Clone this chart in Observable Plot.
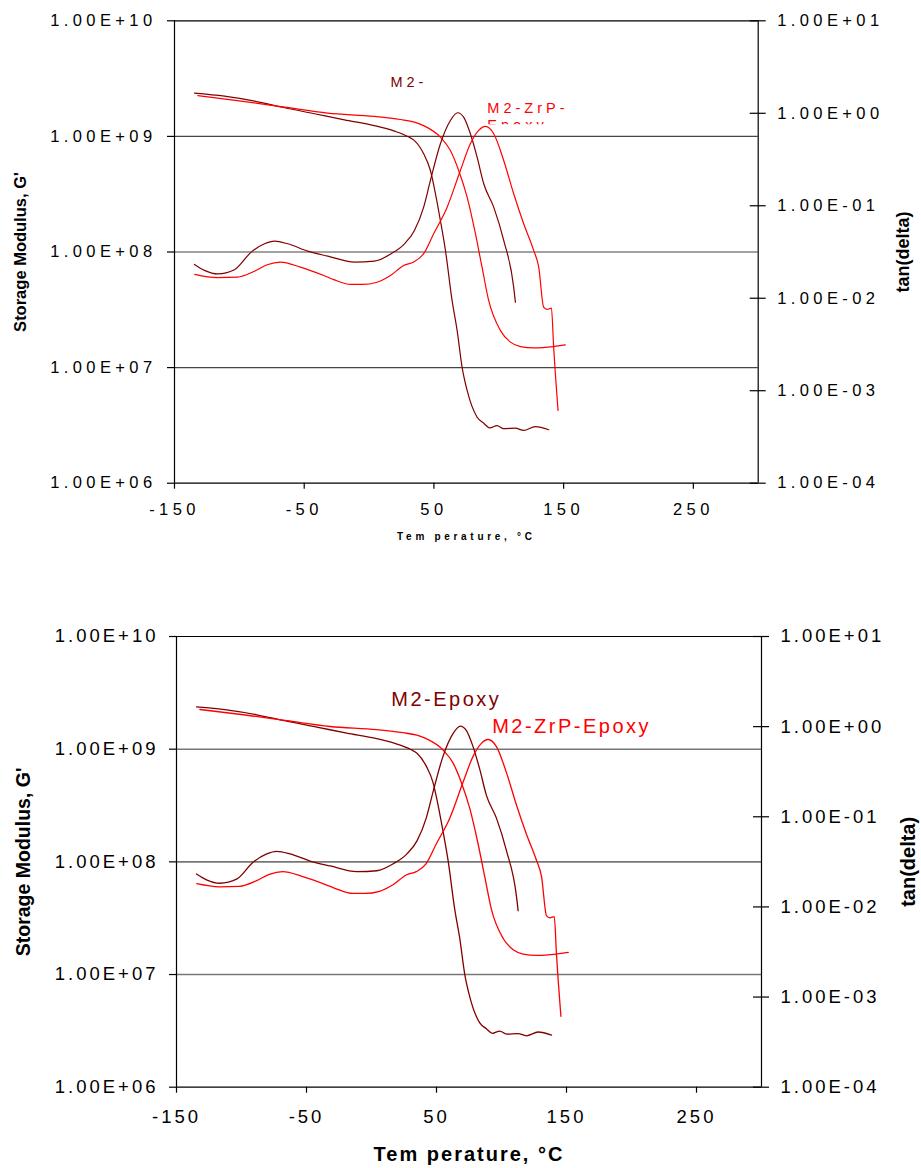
<!DOCTYPE html>
<html><head><meta charset="utf-8">
<script src="https://cdn.jsdelivr.net/npm/d3@7"></script>
<script src="https://cdn.jsdelivr.net/npm/@observablehq/plot@0.6"></script>
<style>
body{margin:0;background:#fff;}
#wrap{position:relative;width:921px;height:1168px;overflow:hidden;}
</style></head><body><div id="wrap"></div>
<script>
// ---- data ----
const seriesNames = ["M2-Epoxy", "M2-ZrP-Epoxy"];

// Storage modulus G' (Pa)
const epoxyModT = [-134.6,-111.5,-88.3,-65.2,-42.1,-19.0,4.1,19.6,29.8,35.0,42.1,47.3,51.2,55.0,58.9,64.0,67.9,71.7,75.6,83.3,88.4,93.0,98.7,103.8,112.8,119.2,128.2,138.5];
const epoxyMod  = [2.37e9,2.23e9,2.02e9,1.77e9,1.57e9,1.39e9,1.24e9,1.11e9,9.98e8,9.2e8,7.07e8,5.07e8,3.19e8,1.87e8,1.03e8,3.81e7,2.09e7,1.01e7,6.34e6,3.72e6,3.30e6,3.01e6,3.15e6,2.96e6,2.99e6,2.86e6,3.09e6,2.90e6];
const zrpModT = [-132.0,-98.6,-65.2,-31.9,4.1,24.2,35.0,42.1,55.0,62.7,69.1,75.6,82.0,87.1,92.2,101.3,109.0,116.7,126.9,142.3,151.3];
const zrpMod  = [2.25e9,2.02e9,1.79e9,1.59e9,1.49e9,1.40e9,1.33e9,1.24e9,9.84e8,7.55e8,5.07e8,2.98e8,1.44e8,7.39e7,3.81e7,2.09e7,1.66e7,1.52e7,1.48e7,1.52e7,1.57e7];

// tan(delta)
const epoxyTanT = [-134.6,-126.9,-116.6,-103.8,-90.9,-80.6,-72.9,-62.7,-47.3,-31.8,-11.3,4.1,17.0,27.3,35.0,42.1,47.3,55.0,62.7,68.3,72.9,78.1,83.3,88.4,96.1,103.8,111.5,112.8];
const epoxyTan  = [0.0232,0.0200,0.0183,0.0203,0.0315,0.0388,0.0414,0.0388,0.0323,0.0285,0.0246,0.0252,0.0303,0.0388,0.0541,0.0966,0.188,0.468,0.836,1.013,0.907,0.600,0.335,0.173,0.0966,0.0422,0.0132,0.00908];
const zrpTanT = [-134.4,-117.1,-101.7,-88.3,-78.6,-68.3,-52.9,-34.9,-27.2,-14.4,-5.3,6.2,16.5,26.7,34.4,42.1,49.8,60.2,70.4,78.1,84.5,89.7,96.1,103.8,111.5,119.2,126.9,130.8,134.6,137.2,140.6,142.3,143.6,145.7];
const zrpTan  = [0.0181,0.0167,0.0169,0.0196,0.0230,0.0246,0.0217,0.0176,0.0159,0.0141,0.0141,0.0149,0.0176,0.0226,0.0246,0.0303,0.0498,0.0966,0.241,0.468,0.652,0.720,0.600,0.309,0.135,0.0639,0.0329,0.0217,0.0080,0.00757,0.00782,0.00296,0.00153,0.000612];

// ticks
const tempTicks = [-150,-50,50,150,250];
const tempDomain = [-150,300];
const modTicks = [1e6,1e7,1e8,1e9,1e10];
const gridTicks = [1e7,1e8,1e9];
const tanTicks = [1e-4,1e-3,1e-2,1e-1,1,10];

// annotation labels (data coordinates)
const topLabelText = ["M2-", "M2-ZrP-\nEpoxy"];
const topLabelT = [16.5, 91.2];
const topLabelG = [3.30e9, 2.05e9];
const bottomLabelText = ["M2-Epoxy", "M2-ZrP-Epoxy"];
const bottomLabelT = [15.2, 92.8];
const bottomLabelG = [3.21e9, 1.86e9];

const xTitle = "Tem perature, \u00B0C";
const yTitle = "Storage Modulus, G'";
const y2Title = "tan(delta)";

// ---- helpers ----
const DARK = "#800000", RED = "#ff0000";
const toMod = t => Math.pow(10, 6 + (Math.log10(t) + 4) * 0.8);   // tan(delta) -> left scale
const fmtE = v => { const e = Math.round(Math.log10(v)); return "1.00E" + (e < 0 ? "-" : "+") + String(Math.abs(e)).padStart(2, "0"); };
const rows = (T, V) => T.map((t, i) => ({T: t, v: V[i]}));

function build(c) {
  const curves = [
    [rows(epoxyModT, epoxyMod), DARK],
    [rows(zrpModT, zrpMod), RED],
    [rows(epoxyTanT, epoxyTan.map(toMod)), DARK],
    [rows(zrpTanT, zrpTan.map(toMod)), RED]
  ];
  const spacings = [];
  const txt = (data, opts, sp) => { spacings.push(sp); return Plot.text(data, opts); };
  const labs = c.labText.map((s, i) => ({s, T: c.labT[i], G: c.labG[i]}));
  const marks = [
    Plot.ruleY(gridTicks, {stroke: c.grid, strokeWidth: c.gridW}),
    Plot.ruleY([1e10, 1e6], {stroke: "#000", strokeWidth: 1.2}),
    Plot.ruleX(tempDomain, {stroke: "#000", strokeWidth: 1.2}),
    Plot.axisY({anchor: "left", ticks: modTicks, tickFormat: fmtE, tickSize: 7, tickPadding: c.lPad, label: null, strokeWidth: 1.2}),
    Plot.ruleY(tanTicks, {y: toMod, x1: tempDomain[1], x2: tempDomain[1], insetLeft: -8, insetRight: -8, stroke: "#000", strokeWidth: 1.2}),
    Plot.axisX({ticks: tempTicks, tickSize: 6, tickPadding: c.xPad, label: null, tickFormat: d => String(d), strokeWidth: 1.2}),
    ...curves.map(([data, col]) => Plot.line(data, {x: "T", y: "v", stroke: col, strokeWidth: c.lw, curve: "monotone-x"})),
    txt([labs[0]], {x: "T", y: "G", text: "s", fill: DARK, fontSize: c.labFs, textAnchor: "start", lineAnchor: "top"}, c.labSp),
    txt([labs[1]], {x: "T", y: "G", text: "s", fill: RED, fontSize: c.labFs, textAnchor: "start", lineAnchor: "top", lineHeight: c.labLh}, c.labSp),
    txt([xTitle], {frameAnchor: "bottom", dy: c.xtDy, fontWeight: "bold", fontSize: c.xtFs, lineAnchor: "middle", textAnchor: "middle"}, c.xtSp),
    txt([yTitle], {frameAnchor: "left", dx: c.ytDx, rotate: -90, fontWeight: "bold", fontSize: c.ytFs, lineAnchor: "middle", textAnchor: "middle"}, 0),
    txt([y2Title], {frameAnchor: "right", dx: c.y2Dx, rotate: -90, fontWeight: "bold", fontSize: c.y2Fs, lineAnchor: "middle", textAnchor: "middle"}, 0),
    txt(tanTicks, {frameAnchor: "right", y: toMod, text: fmtE, dx: c.rPad, textAnchor: "start", lineAnchor: "middle", fill: "#000"}, c.tickSp)
  ];
  const svg = Plot.plot({
    width: 921, height: c.height,
    marginTop: c.mt, marginBottom: c.mb, marginLeft: c.ml, marginRight: c.mr,
    x: {domain: tempDomain},
    y: {type: "log", domain: [1e6, 1e10]},
    style: {fontFamily: "'Liberation Sans', Arial, sans-serif", fontSize: c.tickFs + "px", letterSpacing: c.tickSp + "px", background: "transparent", overflow: "visible", color: "#000"},
    marks
  });
  svg.querySelectorAll('g[aria-label="text"]').forEach((g, i) => g.setAttribute("letter-spacing", spacings[i] + "px"));
  if (c.clip) {
    const ns = "http://www.w3.org/2000/svg";
    const cp = document.createElementNS(ns, "clipPath");
    cp.setAttribute("id", c.clip);
    const r = document.createElementNS(ns, "rect");
    r.setAttribute("x", 0); r.setAttribute("y", 0); r.setAttribute("width", 921);
    r.setAttribute("height", svg.scale("y").apply(c.labG[1]) + c.clipDepth);
    cp.appendChild(r); svg.appendChild(cp);
    svg.querySelectorAll('g[aria-label="text"]')[1].setAttribute("clip-path", `url(#${c.clip})`);
  }
  svg.style.position = "absolute";
  svg.style.left = "0px";
  svg.style.top = c.top + "px";
  return svg;
}

const wrap = document.getElementById("wrap");
wrap.appendChild(build({
  top: 0, height: 550, mt: 20.3, mb: 67.3, ml: 174, mr: 163.3,
  grid: "#444", gridW: 1.2, lw: 1.2,
  tickFs: 16.5, tickSp: 4.4, lPad: 11, rPad: 19, xPad: 14,
  labText: topLabelText, labT: topLabelT, labG: topLabelG, labFs: 14.5, labSp: 4, labLh: 1.2,
  xtDy: 53.3, xtFs: 10, xtSp: 3.7,
  ytDx: -154, ytFs: 16.5, y2Dx: 145, y2Fs: 18,
  clip: "zrpclip", clipDepth: 24
}));
wrap.appendChild(build({
  top: 550, height: 618, mt: 86, mb: 81.3, ml: 176, mr: 160,
  grid: "#777", gridW: 1.6, lw: 1.3,
  tickFs: 18.5, tickSp: 3, lPad: 11, rPad: 19, xPad: 17,
  labText: bottomLabelText, labT: bottomLabelT, labG: bottomLabelG, labFs: 20, labSp: 2.5, labLh: 1,
  xtDy: 67.3, xtFs: 20, xtSp: 2,
  ytDx: -153, ytFs: 19.5, y2Dx: 147, y2Fs: 20,
  clip: null
}));
</script>
</body></html>
